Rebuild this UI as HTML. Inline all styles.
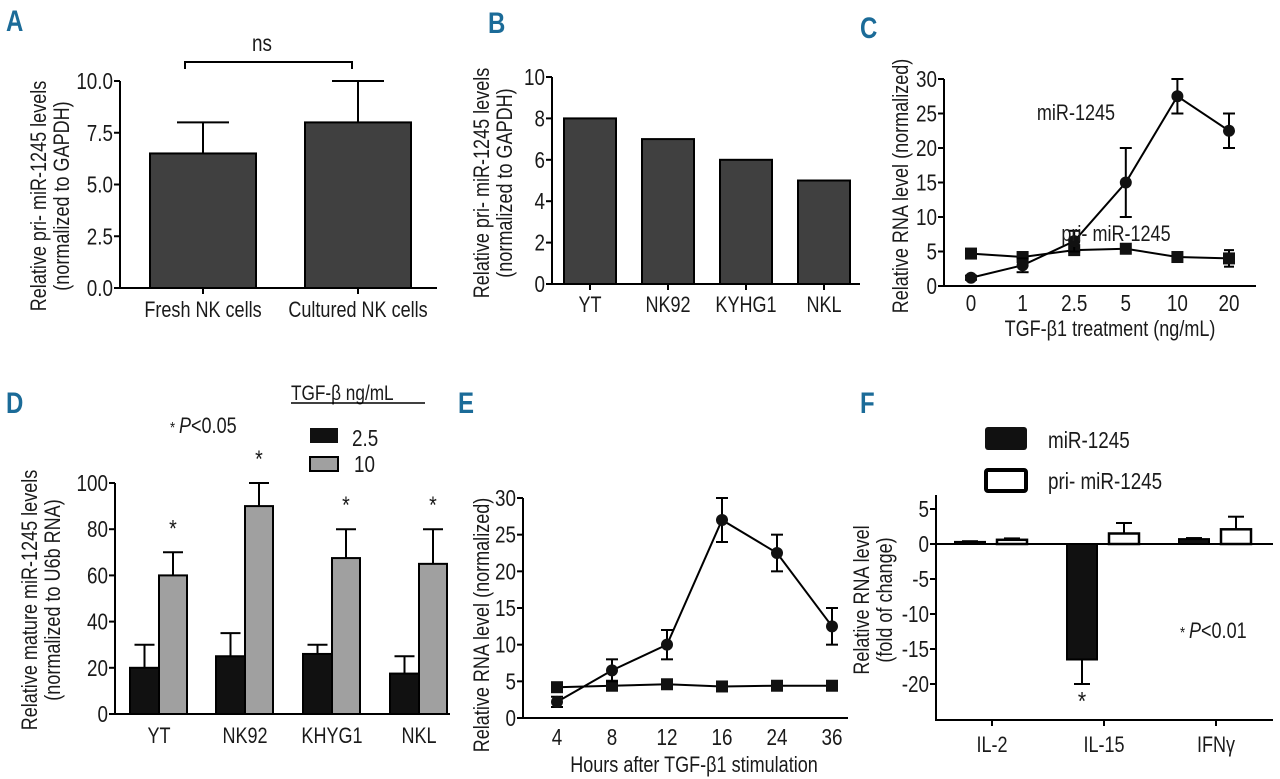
<!DOCTYPE html>
<html><head><meta charset="utf-8"><style>
html,body{margin:0;padding:0;background:#fff;}
svg{display:block;font-family:"Liberation Sans",sans-serif;}
text{fill:#1a1a1a;}
.pl{font-family:"Liberation Sans",sans-serif;font-weight:bold;fill:#1b6b98;font-size:30px;}
</style></head><body>
<svg id="fig" width="1280" height="779" viewBox="0 0 1280 779" xmlns="http://www.w3.org/2000/svg">
<text class="pl" transform="translate(6,31) scale(0.8,1)">A</text>
<text class="pl" transform="translate(488,33) scale(0.8,1)">B</text>
<text class="pl" transform="translate(860,38) scale(0.8,1)">C</text>
<text class="pl" transform="translate(6,413) scale(0.8,1)">D</text>
<text class="pl" transform="translate(458,413) scale(0.8,1)">E</text>
<text class="pl" transform="translate(860,413) scale(0.8,1)">F</text>
</svg>
<script>
// ---- data ----
const aCats = ["Fresh NK cells","Cultured NK cells"];
const aVals = [6.5, 8.0];
const aErr = [1.5, 2.0];
const aTicks = [0, 2.5, 5, 7.5, 10];
const aTickLabels = ["0.0","2.5","5.0","7.5","10.0"];

const bCats = ["YT","NK92","KYHG1","NKL"];
const bVals = [8, 7, 6, 5];
const bTicks = [0,2,4,6,8,10];

const cCats = ["0","1","2.5","5","10","20"];
const cMir = [1.2, 3, 6.5, 15, 27.5, 22.5];
const cMirErr = [0.3, 1, 1.5, 5, 2.5, 2.5];
const cPri = [4.7, 4.2, 5.2, 5.4, 4.2, 4.0];
const cPriErr = [0.3, 0.3, 0.5, 0.3, 0.3, 1.2];
const cTicks = [0,5,10,15,20,25,30];

const dCats = ["YT","NK92","KHYG1","NKL"];
const dLow = [20, 25, 26, 17.5];
const dLowErr = [10, 10, 4, 7.5];
const dHigh = [60, 90, 67.5, 65];
const dHighErr = [10, 10, 12.5, 15];
const dTicks = [0,20,40,60,80,100];

const eCats = ["4","8","12","16","24","36"];
const eMir = [2.2, 6.5, 10, 27, 22.5, 12.5];
const eMirErr = [0.7, 1.5, 2, 3, 2.5, 2.5];
const ePri = [4.2, 4.4, 4.6, 4.3, 4.4, 4.4];
const eTicks = [0,5,10,15,20,25,30];

const fCats = ["IL-2","IL-15","IFNγ"];
const fMir = [0.3, -16.5, 0.7];
const fMirErr = [0.1, 3.5, 0.15];
const fPri = [0.6, 1.5, 2.1];
const fPriErr = [0.2, 1.5, 1.8];
const fTicks = [-20,-15,-10,-5,0,5];

const svg = document.getElementById('fig');
const NS = "http://www.w3.org/2000/svg";
const SX = 0.82;
function mk(tag, attrs, name, txt){
  const el = document.createElementNS(NS, tag);
  for (const k in attrs) el.setAttribute(k, attrs[k]);
  
  
  if (txt !== undefined) el.textContent = txt;
  svg.appendChild(el);
  return el;
}
function line(x1,y1,x2,y2,name,w){ return mk('line',{x1,y1,x2,y2,stroke:'#000','stroke-width':w||2},name); }
function txt(x,y,s,name,size,anchor,extra,rot){
  const a = Object.assign({x:0,y:0,'font-size':size||20,'text-anchor':anchor||'middle',
    transform:`translate(${x},${y})${rot?' rotate(-90)':''} scale(${SX},1)`}, extra||{});
  return mk('text',a,name,s);
}
function yAxis(x, yTop, yBot, ticks, labels, scale, name){
  line(x, yTop, x, yBot, name+'-y-axis');
  ticks.forEach((t,i)=>{
    const y = scale(t);
    line(x-6, y, x, y, name+'-y-tick');
    txt(x-7, y+8, labels ? labels[i] : String(t), name+'-y-tick-label', 23, 'end');
  });
}
function ylabel(cx, cy, lines, name, size){
  lines.forEach((s,i)=>{
    txt(cx+i*23, cy, s, name+'-y-axis-title', size||22, 'middle', null, true);
  });
}
function errBar(x, y1, y2, capW, name){
  line(x, y1, x, y2, name);
  line(x-capW, y2, x+capW, y2, name+'-cap');
}

// ---- Panel A ----
{
  const y = v => 288 - v*(288-81)/10;
  const cx = [203, 358];
  aCats.forEach((c,i)=>{
    errBar(cx[i], y(aVals[i]), y(aVals[i]+aErr[i]), 26, 'a-error-bar');
    mk('rect',{x:cx[i]-53,y:y(aVals[i]),width:106,height:y(0)-y(aVals[i]),fill:'#404040',stroke:'#000','stroke-width':2},'a-bar-'+i);
    line(cx[i],288,cx[i],294,'a-x-tick');
    txt(cx[i],317,c,'a-x-tick-label',22);
  });
  line(119,288,437,288,'a-x-axis');
  yAxis(120,81,288,aTicks,aTickLabels,y,'a');
  mk('path',{d:'M185,69 V62 H352 V69',fill:'none',stroke:'#000','stroke-width':2},'a-significance-bracket');
  txt(262,51,'ns','a-ns-label',23);
  ylabel(46,196,['Relative pri- miR-1245 levels','(normalized to GAPDH)'],'a');
}
// ---- Panel B ----
{
  const y = v => 284 - v*(284-77)/10;
  const cx = [590, 668, 746, 824];
  bCats.forEach((c,i)=>{
    mk('rect',{x:cx[i]-26,y:y(bVals[i]),width:52,height:y(0)-y(bVals[i]),fill:'#404040',stroke:'#000','stroke-width':2},'b-bar-'+c);
    line(cx[i],284,cx[i],290,'b-x-tick');
    txt(cx[i],312,c,'b-x-tick-label',22);
  });
  line(551,284,860,284,'b-x-axis');
  yAxis(552,77,284,bTicks,null,y,'b');
  ylabel(489,183,['Relative pri- miR-1245 levels','(normalized to GAPDH)'],'b');
}
// ---- line chart helper ----
function lineChart(p, cats, mir, mirErr, pri, priErr, xs, y){
  let d='';
  pri.forEach((v,i)=>{ d += (i?'L':'M')+xs[i]+','+y(v); });
  mk('path',{d,fill:'none',stroke:'#000','stroke-width':2},p+'-pri-line');
  d='';
  mir.forEach((v,i)=>{ d += (i?'L':'M')+xs[i]+','+y(v); });
  mk('path',{d,fill:'none',stroke:'#000','stroke-width':2},p+'-mir-line');
  pri.forEach((v,i)=>{
    if (priErr){ line(xs[i],y(v-priErr[i]),xs[i],y(v+priErr[i]),p+'-pri-error'); line(xs[i]-5,y(v-priErr[i]),xs[i]+5,y(v-priErr[i]),p+'-pri-error-cap'); line(xs[i]-5,y(v+priErr[i]),xs[i]+5,y(v+priErr[i]),p+'-pri-error-cap'); }
    mk('rect',{x:xs[i]-6,y:y(v)-6,width:12,height:12,fill:'#111'},p+'-pri-point');
  });
  mir.forEach((v,i)=>{
    const lo=y(v-mirErr[i]), hi=y(v+mirErr[i]);
    line(xs[i],lo,xs[i],hi,p+'-mir-error');
    line(xs[i]-6,lo,xs[i]+6,lo,p+'-mir-error-cap');
    line(xs[i]-6,hi,xs[i]+6,hi,p+'-mir-error-cap');
    mk('circle',{cx:xs[i],cy:y(v),r:6,fill:'#111'},p+'-mir-point');
  });
}
// ---- Panel C ----
{
  const y = v => 286 - v*(286-79)/30;
  const xs = cCats.map((c,i)=>971+i*51.6);
  line(943,286,1256,286,'c-x-axis');
  yAxis(944,79,286,cTicks,null,y,'c');
  cCats.forEach((c,i)=>{ txt(xs[i],311,c,'c-x-tick-label',23); });
  lineChart('c',cCats,cMir,cMirErr,cPri,cPriErr,xs,y);
  txt(1076,120,'miR-1245','c-series-label-mir',22);
  txt(1116,241,'pri- miR-1245','c-series-label-pri',22);
  txt(1110,336,'TGF-β1 treatment (ng/mL)','c-x-axis-title',22);
  ylabel(908,186,['Relative RNA level (normalized)'],'c');
}
// ---- Panel D ----
{
  const y = v => 714 - v*(714-483)/100;
  const cx = [159, 245, 332, 419];
  dCats.forEach((c,i)=>{
    errBar(cx[i]-14.5, y(dLow[i]), y(dLow[i]+dLowErr[i]), 10, 'd-low-error');
    errBar(cx[i]+14, y(dHigh[i]), y(dHigh[i]+dHighErr[i]), 10, 'd-high-error');
    mk('rect',{x:cx[i]-29,y:y(dLow[i]),width:29,height:y(0)-y(dLow[i]),fill:'#111',stroke:'#000','stroke-width':2},'d-bar-low-'+c);
    mk('rect',{x:cx[i],y:y(dHigh[i]),width:28,height:y(0)-y(dHigh[i]),fill:'#a0a0a0',stroke:'#000','stroke-width':2},'d-bar-high-'+c);
    txt(cx[i]+14, y(dHigh[i]+dHighErr[i])-16,'*','d-significance-star',24);
    txt(cx[i],743,c,'d-x-tick-label',22);
  });
  line(114,714,450,714,'d-x-axis');
  yAxis(115,483,714,dTicks,null,y,'d');
  ylabel(37,600,['Relative mature miR-1245 levels','(normalized to U6b RNA)'],'d');
  txt(170,433,'*','d-p-note-star',16,'start');
  txt(179,433,'P','d-p-note',22,'start',{'font-style':'italic'});
  txt(191,433,'<0.05','d-p-note-value',22,'start');
  txt(291,400,'TGF-β ng/mL','d-legend-title',21,'start');
  line(291,403,425,403,'d-legend-underline',1.5);
  mk('rect',{x:310,y:428,width:28,height:15,fill:'#111'},'d-legend-swatch-low');
  txt(352,446,'2.5','d-legend-label-low',23,'start');
  mk('rect',{x:310,y:457,width:28,height:14,fill:'#a0a0a0',stroke:'#000','stroke-width':2},'d-legend-swatch-high');
  txt(354,472,'10','d-legend-label-high',23,'start');
}
// ---- Panel E ----
{
  const y = v => 718 - v*(718-498)/30;
  const xs = eCats.map((c,i)=>557+i*55);
  line(522,718,848,718,'e-x-axis');
  yAxis(523,498,718,eTicks,null,y,'e');
  eCats.forEach((c,i)=>{ txt(xs[i],745,c,'e-x-tick-label',23); });
  lineChart('e',eCats,eMir,eMirErr,ePri,null,xs,y);
  txt(694,772,'Hours after TGF-β1 stimulation','e-x-axis-title',22);
  ylabel(489,625,['Relative RNA level (normalized)'],'e');
}
// ---- Panel F ----
{
  const y = v => 544 - v*7;
  const cx = [992, 1104, 1216];
  line(936,544,1273,544,'f-zero-line');
  fCats.forEach((c,i)=>{
    const m=fMir[i], pv=fPri[i];
    const mTop=Math.min(y(m),y(0)), mH=Math.abs(y(m)-y(0));
    const me = m<0 ? m-fMirErr[i] : m+fMirErr[i];
    errBar(cx[i]-22, y(m), y(me), 8, 'f-mir-error');
    errBar(cx[i]+20, y(pv), y(pv+fPriErr[i]), 8, 'f-pri-error');
    mk('rect',{x:cx[i]-37,y:mTop,width:30,height:mH,fill:'#111',stroke:'#000','stroke-width':2},'f-bar-mir-'+c);
    mk('rect',{x:cx[i]+5,y:y(pv),width:30,height:y(0)-y(pv),fill:'#fff',stroke:'#000','stroke-width':2.5},'f-bar-pri-'+c);
    line(cx[i],720,cx[i],726,'f-x-tick');
    txt(cx[i],752,c,'f-x-tick-label',22);
  });
  txt(1082,710,'*','f-significance-star',26);
  line(935,720,1273,720,'f-x-axis');
  yAxis(936,495,720,fTicks,null,y,'f');
  ylabel(869,600,['Relative RNA level','(fold of change)'],'f');
  mk('rect',{x:985,y:427,width:42,height:23,rx:3,fill:'#111'},'f-legend-swatch-mir');
  txt(1048,448,'miR-1245','f-legend-label-mir',23,'start');
  mk('rect',{x:986,y:470,width:40,height:21,rx:2,fill:'#fff',stroke:'#000','stroke-width':4},'f-legend-swatch-pri');
  txt(1048,489,'pri- miR-1245','f-legend-label-pri',23,'start');
  txt(1180,638,'*','f-p-note-star',16,'start');
  txt(1189,638,'P','f-p-note',22,'start',{'font-style':'italic'});
  txt(1201,638,'<0.01','f-p-note-value',22,'start');
}
</script>
</body></html>
